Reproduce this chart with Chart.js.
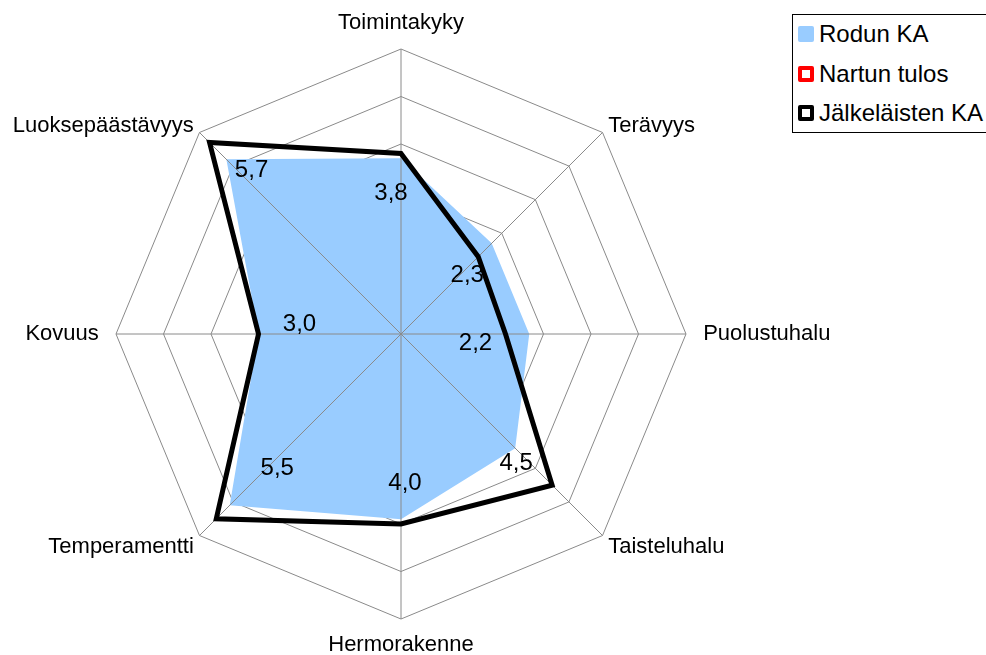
<!DOCTYPE html>
<html>
<head>
<meta charset="utf-8">
<script src="https://cdn.jsdelivr.net/npm/chart.js@4/dist/chart.umd.min.js"></script>
<style>
    html, body { margin: 0; padding: 0; background: #fff; overflow: hidden; }
    body { width: 986px; height: 655px; position: relative; font-family: "Liberation Sans", Arial, sans-serif; }
    #graficoTutka { position: absolute; left: -100px; top: 0; }
    #selite { position: absolute; left: 792px; top: 14px; width: 210px; height: 117px; border: 1px solid #000; background: #fff; }
    .rivi { position: absolute; left: 5px; height: 28px; line-height: 28px; font-size: 24px; color: #000; white-space: nowrap; }
    .merkki { position: absolute; left: 0; top: 6px; width: 16px; height: 16px; box-sizing: border-box; border-radius: 2px; }
    .rivi span.teksti { position: absolute; left: 21px; top: 0; }
</style>
</head>
<body>
<canvas id="graficoTutka" width="1002" height="655"></canvas>
<div id="selite"></div>
<script>
// OMINAISUUDET JA ARVOT (luettu kuvasta)
const ominaisuudet = ['Toimintakyky', 'Terävyys', 'Puolustuhalu', 'Taisteluhalu',
    'Hermorakenne', 'Temperamentti', 'Kovuus', 'Luoksepäästävyys'];
const rodunKA = [3.7, 2.7, 2.7, 3.4, 3.9, 5.1, 3.0, 5.2];
const nartunTulos = [null, null, null, null, null, null, null, null];
const jalkelaistenKA = [3.8, 2.3, 2.2, 4.5, 4.0, 5.5, 3.0, 5.7];
const asteikko = [0, 1, 2, 3, 4, 5, 6];

// arvotekstien siirtymät pisteestä (px)
const tekstiSiirto = [[-10, 40], [-11, 19], [-30, 9], [-36, -22], [4, -41], [61, -50], [41, -10], [42, 28]];
// akselinimien rivikorkeus ja etäisyys (Excelin sijoittelun jäljittely)
const nimiRivikorkeus = [0.8, 0.1, 0.8, 0.5, 0.8, 0.5, 0.8, 0.1];
const nimiVali = [17.2, 8, 17.2, 8, 17.2, 8, 17.2, 8];

const fontti = '"Liberation Sans", Arial, sans-serif';
const viivaVari = '#8a8a8a';

// selite html:nä
const selite = document.getElementById('selite');
const seliteRivit = [
    { nimi: 'Rodun KA', tausta: '#99ccff', reuna: 'none' },
    { nimi: 'Nartun tulos', tausta: '#fff', reuna: '4px solid #ff0000' },
    { nimi: 'Jälkeläisten KA', tausta: '#fff', reuna: '4px solid #000' }
];
seliteRivit.forEach((r, i) => {
    const div = document.createElement('div');
    div.className = 'rivi';
    div.style.top = (5 + i * 39.5) + 'px';
    div.innerHTML = '<span class="merkki" style="background:' + r.tausta + ';border:' + r.reuna + '"></span>' +
        '<span class="teksti">' + r.nimi + '</span>';
    selite.appendChild(div);
});

// säteet piirretään sinisen alueen päälle (kuten Excelissä)
const sateet = {
    id: 'sateet',
    afterDatasetDraw(chart, args) {
        if (args.index !== 0) return;
        const ctx = chart.ctx;
        const r = chart.scales.r;
        ctx.save();
        ctx.strokeStyle = viivaVari;
        ctx.lineWidth = 1;
        ominaisuudet.forEach((_, i) => {
            const p = r.getPointPosition(i, r.drawingArea);
            ctx.beginPath();
            ctx.moveTo(r.xCenter, r.yCenter);
            ctx.lineTo(p.x, p.y);
            ctx.stroke();
        });
        ctx.restore();
    }
};

const arvoTekstit = {
    id: 'arvoTekstit',
    afterDatasetsDraw(chart) {
        const ctx = chart.ctx;
        const r = chart.scales.r;
        ctx.save();
        ctx.font = '24px ' + fontti;
        ctx.fillStyle = '#000';
        ctx.textAlign = 'center';
        ctx.textBaseline = 'middle';
        jalkelaistenKA.forEach((v, i) => {
            const p = r.getPointPositionForValue(i, v);
            ctx.fillText(v.toFixed(1).replace('.', ','), p.x + tekstiSiirto[i][0], p.y + tekstiSiirto[i][1]);
        });
        ctx.restore();
    }
};

const ctx = document.getElementById('graficoTutka').getContext('2d');
new Chart(ctx, {
    type: 'radar',
    data: {
        labels: ominaisuudet,
        datasets: [{
            label: 'Rodun KA',
            data: rodunKA,
            backgroundColor: '#99ccff',
            borderWidth: 0,
            fill: true,
            pointRadius: 0,
            order: 2
        }, {
            label: 'Nartun tulos',
            data: nartunTulos,
            borderColor: '#ff0000',
            borderWidth: 5,
            fill: false,
            pointRadius: 0,
            order: 1
        }, {
            label: 'Jälkeläisten KA',
            data: jalkelaistenKA,
            borderColor: '#000',
            borderWidth: 5,
            borderJoinStyle: 'miter',
            fill: false,
            pointRadius: 0,
            order: 0
        }]
    },
    options: {
        responsive: false,
        animation: false,
        layout: {
            padding: { top: 14.2, bottom: 0, left: 0, right: 0 }
        },
        scales: {
            r: {
                min: asteikko[0],
                max: asteikko[asteikko.length - 1],
                ticks: { display: false, stepSize: 1 },
                grid: { color: viivaVari, lineWidth: 1, circular: false },
                angleLines: { display: false },
                pointLabels: {
                    color: '#000',
                    font: (c) => ({ family: fontti, size: 22, lineHeight: nimiRivikorkeus[c.index] }),
                    padding: (c) => nimiVali[c.index]
                }
            }
        },
        plugins: {
            legend: { display: false },
            tooltip: { enabled: false }
        }
    },
    plugins: [sateet, arvoTekstit]
});
</script>
</body>
</html>
